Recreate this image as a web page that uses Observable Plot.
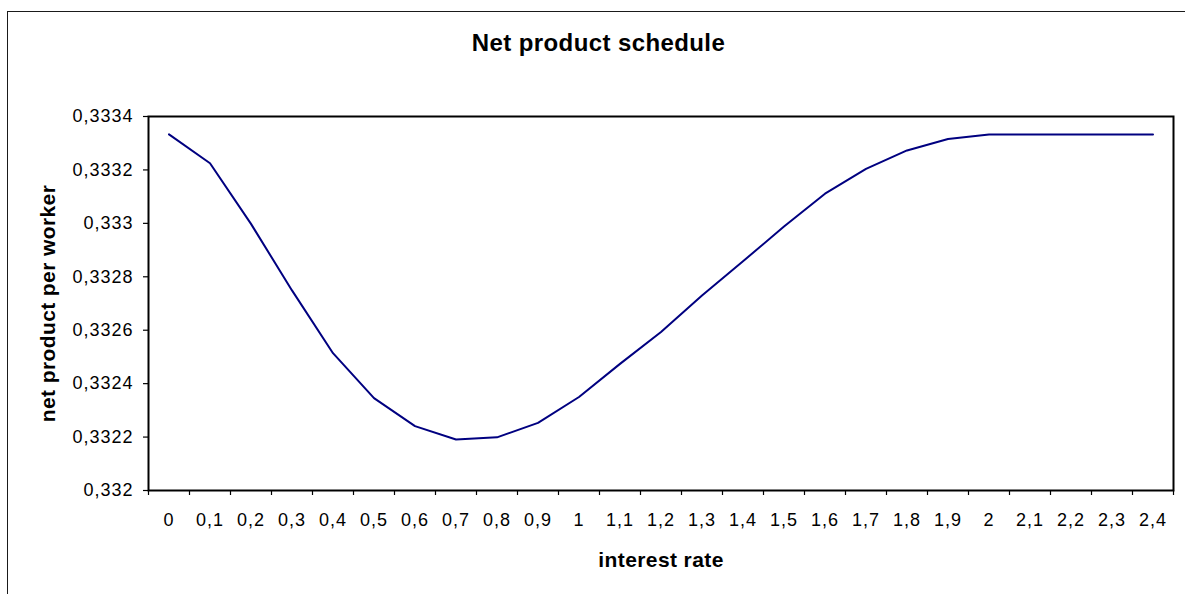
<!DOCTYPE html>
<html>
<head>
<meta charset="utf-8">
<script src="https://cdn.jsdelivr.net/npm/d3@7"></script>
<script src="https://cdn.jsdelivr.net/npm/@observablehq/plot@0.6"></script>
<style>
  html, body { margin: 0; padding: 0; background: #fff; overflow: hidden; }
  #wrap { position: relative; width: 1185px; height: 594px; }
  #outer { position: absolute; left: 7px; top: 11px; width: 1200px; height: 620px; border: 1px solid #1a1a1a; box-sizing: border-box; pointer-events: none; }
  .chart text { letter-spacing: 1px; }
  .chart g[font-weight="bold"] text { letter-spacing: 0.4px; }
</style>
</head>
<body>
<div id="wrap"><div id="outer"></div></div>
<script>
// Data
const rates = [0, 0.1, 0.2, 0.3, 0.4, 0.5, 0.6, 0.7, 0.8, 0.9, 1.0, 1.1, 1.2, 1.3, 1.4, 1.5, 1.6, 1.7, 1.8, 1.9, 2.0, 2.1, 2.2, 2.3, 2.4];
const netProduct = [0.333333, 0.333225, 0.332998, 0.332749, 0.332514, 0.332346, 0.332241, 0.332191, 0.332199, 0.332253,
                    0.332350, 0.332474, 0.332593, 0.332730, 0.332858, 0.332988, 0.333111, 0.333204, 0.333273, 0.333316,
                    0.333333, 0.333333, 0.333333, 0.333333, 0.333333];
const yTicks = [0.332, 0.3322, 0.3324, 0.3326, 0.3328, 0.333, 0.3332, 0.3334];
const title = "Net product schedule";
const xTitle = "interest rate";
const yTitle = "net product per worker";

const data = rates.map((r, i) => ({rate: r, value: netProduct[i]}));
const halfStep = 0.05;
const boundaries = rates.map(r => r - halfStep).concat([rates[rates.length - 1] + halfStep]);
const comma = d => String(+(+d).toFixed(4)).replace(".", ",");

const chart = Plot.plot({
  width: 1185,
  height: 594,
  marginLeft: 148,
  marginRight: 12,
  marginTop: 116,
  marginBottom: 104,
  className: "chart",
  style: {fontFamily: "'Liberation Sans', Arial, sans-serif", fontSize: "18px", color: "#000", background: "transparent"},
  x: {type: "linear", domain: [rates[0] - halfStep, rates[rates.length - 1] + halfStep]},
  y: {type: "linear", domain: [yTicks[0], yTicks[yTicks.length - 1]]},
  marks: [
    Plot.axisX({ticks: rates, tickSize: 0, tickPadding: 23, tickFormat: comma, label: null, fill: "#000"}),
    Plot.axisX({ticks: boundaries, tickSize: 5, tickFormat: () => "", label: null, stroke: "#000", strokeWidth: 1.2}),
    Plot.axisY({ticks: yTicks, tickSize: 5, tickPadding: 10, tickFormat: comma, label: null, stroke: "#000", strokeWidth: 1.2, fill: "#000"}),
    Plot.line(data, {x: "rate", y: "value", stroke: "#000080", strokeWidth: 2}),
    Plot.frame({stroke: "#000", strokeWidth: 2}),
    Plot.text([title], {frameAnchor: "top", lineAnchor: "middle", textAnchor: "middle", dx: -62.5, dy: -73, fontSize: 24, fontWeight: "bold", fill: "#000"}),
    Plot.text([xTitle], {frameAnchor: "bottom", lineAnchor: "middle", textAnchor: "middle", dy: 70, fontSize: 21, fontWeight: "bold", fill: "#000"}),
    Plot.text([yTitle], {frameAnchor: "left", lineAnchor: "middle", textAnchor: "middle", dx: -100, rotate: -90, fontSize: 21, fontWeight: "bold", fill: "#000"})
  ]
});
document.getElementById("wrap").prepend(chart);
</script>
</body>
</html>
